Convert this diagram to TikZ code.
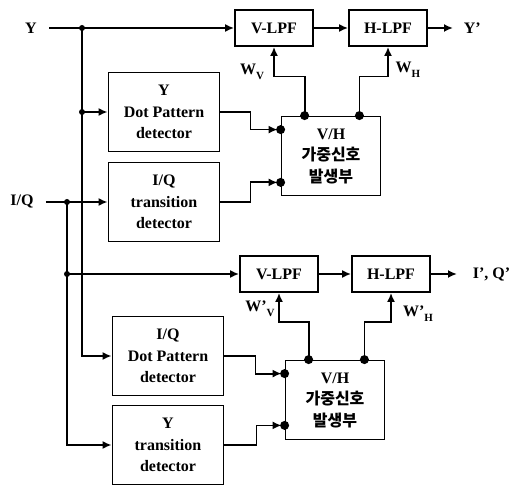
\documentclass[tikz,border=0pt]{standalone}
\usepackage{fontspec}
\setmainfont{Liberation Serif}
\newfontfamily\cjk{Noto Sans CJK KR}
\usetikzlibrary{arrows.meta}
\usetikzlibrary{positioning}
\usetikzlibrary{calc}

\newcommand{\wlbl}[2]{#1\raisebox{-5pt}{\fontsize{11}{11}\selectfont #2}}
\newcommand{\gentext}{V/H\\{\cjk\fontsize{16}{22}\selectfont 가중신호}\\{\cjk\fontsize{16}{22}\selectfont 발생부}}

\begin{document}
\begin{tikzpicture}[x=1pt, y=-1pt, line width=1.8pt,
  every node/.style={font=\fontsize{16}{21.5}\selectfont\bfseries},
  blk/.style={rectangle, draw, align=center, inner sep=0pt},
  lpf/.style={blk, minimum width=78, minimum height=36},
  det/.style={blk, minimum width=111, minimum height=79},
  gen/.style={blk, minimum width=99, minimum height=79},
  sig/.style={-{Latex[length=9pt, width=8pt]}}]

        % Fix the page size
        \fill[white] (0,0) rectangle (511,486);

        % Draw the input and output labels
        \node (yin) at (31,28) {Y};
        \node (iqin) at (22,202) {I/Q};
        \node[anchor=west, inner sep=0pt] (yout) at (463,28) {Y’};
        \node[anchor=west, inner sep=0pt] (iqout) at (472,274) {I’, Q’};

        % Draw the upper filter chain
        \node[lpf] (vlpf1) at (274,28) {V-LPF};
        \node[lpf] (hlpf1) at (388,28) {H-LPF};
        \node[det] (ydet) at (164,112) {Y\\Dot Pattern\\detector};
        \node[det] (iqtr) at (164,202) {I/Q\\transition\\detector};
        \node[gen] (vh1) at (331,156) {\gentext};

        % Draw the lower filter chain
        \node[lpf] (vlpf2) at (279,274) {V-LPF};
        \node[lpf] (hlpf2) at (391,274) {H-LPF};
        \node[det] (iqdet) at (168,356) {I/Q\\Dot Pattern\\detector};
        \node[det] (ytr) at (168,445) {Y\\transition\\detector};
        \node[gen] (vh2) at (335,400) {\gentext};

        % Weight labels
        \node (wv1) at (252,72) {\wlbl{W}{V}};
        \node (wh1) at (408,70) {\wlbl{W}{H}};
        \node (wv2) at (260,309) {\wlbl{W’}{V}};
        \node (wh2) at (418,314) {\wlbl{W’}{H}};

        % Junctions on the input lines
        \coordinate (jy) at (82,28);
        \coordinate (jyd) at (82,112);
        \coordinate (jiq) at (67,202);
        \coordinate (jiqv) at (67,274);

        % Ports on the V/H blocks
        \coordinate (vh1a) at ($(vh1.north west)+(0,14)$);
        \coordinate (vh1b) at ($(vh1.south west)+(0,-14)$);
        \coordinate (vh1c) at ($(vh1.north west)+(24,0)$);
        \coordinate (vh1d) at ($(vh1.north east)+(-22,0)$);
        \coordinate (vh2a) at ($(vh2.north west)+(0,14)$);
        \coordinate (vh2b) at ($(vh2.south west)+(0,-15)$);
        \coordinate (vh2c) at ($(vh2.north west)+(24,0)$);
        \coordinate (vh2d) at ($(vh2.north east)+(-21,0)$);

        % Y input
        \draw[sig] ([xshift=8pt]yin.east) -- (vlpf1.west);
        \draw (jy) -- (jyd);
        \draw[sig] (jyd) -- (ydet.west);
        \draw[sig] (jyd) |- (iqdet.west);

        % I/Q input
        \draw[sig] ([xshift=8pt]iqin.east) -- (iqtr.west);
        \draw (jiq) -- (jiqv);
        \draw[sig] (jiqv) -- (vlpf2.west);
        \draw[sig] (jiqv) |- (ytr.west);

        % Filter chains and outputs
        \draw[sig] (vlpf1.east) -- (hlpf1.west);
        \draw[sig] (hlpf1.east) -- ([xshift=-10pt]yout.west);
        \draw[sig] (vlpf2.east) -- (hlpf2.west);
        \draw[sig] (hlpf2.east) -- ([xshift=-15pt]iqout.west);

        % Detectors into the V/H blocks
        \draw[sig, shorten >=3pt] (ydet.east) -- ++(30,0) |- (vh1a);
        \draw[sig, shorten >=3pt] (iqtr.east) -- ++(30,0) |- (vh1b);
        \draw[sig, shorten >=3pt] (iqdet.east) -- ++(31,0) |- (vh2a);
        \draw[sig, shorten >=3pt] (ytr.east) -- ++(32,0) |- (vh2b);

        % Weights up to the filters
        \draw[sig] (vh1c) -- ++(0,-39) -| (vlpf1.south);
        \draw[sig] (vh1d) -- ++(0,-39) -| (hlpf1.south);
        \draw[sig] (vh2c) -- ++(0,-38) -| (vlpf2.south);
        \draw[sig] (vh2d) -- ++(0,-38) -| (hlpf2.south);

        % Draw the dots
        \foreach \p in {jy,jyd,jiq,jiqv}
          \fill (\p) circle (3);
        \foreach \p in {vh1a,vh1b,vh1c,vh1d,vh2a,vh2b,vh2c,vh2d}
          \fill (\p) circle (4.5);
\end{tikzpicture}
\end{document}
